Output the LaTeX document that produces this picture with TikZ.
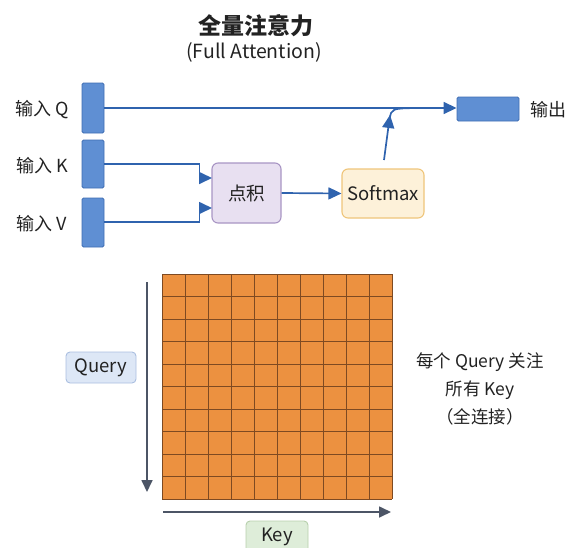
\documentclass[tikz,border=0pt]{standalone}
\usepackage{fontspec}
\setmainfont{Noto Sans CJK SC}
\usetikzlibrary{arrows.meta,positioning}
\definecolor{barfill}{HTML}{5F8FD3}
\definecolor{barline}{HTML}{3F6DB3}
\definecolor{flowc}{HTML}{2F63AE}
\definecolor{dotfill}{HTML}{E8E0F1}
\definecolor{dotline}{HTML}{A895C4}
\definecolor{smfill}{HTML}{FDF1D9}
\definecolor{smline}{HTML}{EFC57A}
\definecolor{cellfill}{HTML}{EC9140}
\definecolor{cellline}{HTML}{7E4A22}
\definecolor{axisc}{HTML}{4C5566}
\definecolor{qfill}{HTML}{DDE7F6}
\definecolor{qline}{HTML}{AABFE0}
\definecolor{kfill}{HTML}{DEEDD9}
\definecolor{kline}{HTML}{B7D0AC}
\definecolor{txt}{HTML}{222222}
\tikzset{
  bar/.style={draw=barline, fill=barfill, line width=0.9pt, rounded corners=1.5pt, minimum width=22pt, inner sep=0pt},
  lbl/.style={text=txt, font=\fontsize{18}{20}\selectfont, inner sep=0pt},
  flow/.style={draw=flowc, line width=1.7pt, -{Triangle[length=13pt,width=12pt]}},
  flowplain/.style={draw=flowc, line width=1.7pt},
  opbox/.style={rounded corners=6pt, line width=1.1pt, inner sep=0pt, text=txt, font=\fontsize{18.5}{20}\selectfont},
  axis/.style={draw=axisc, line width=1.7pt, -{Triangle[length=12pt,width=11pt]}},
  tag/.style={rounded corners=4pt, line width=0.9pt, inner sep=0pt, text=txt, font=\fontsize{18.5}{20}\selectfont}
}
\begin{document}
\begin{tikzpicture}[x=1pt,y=-1pt]
\useasboundingbox (0,0) rectangle (568,547);

% title
\node[text=txt, font=\fontsize{23}{26}\selectfont\bfseries] (title) at (256,26) {全量注意力};
\node[text=txt, font=\fontsize{19.5}{22}\selectfont] (subtitle) at (254,52) {(Full Attention)};

% input bars
\node[bar, minimum height=50pt] (qbar) at (93,108) {};
\node[bar, minimum height=48pt] (kbar) at (93,164) {};
\node[bar, minimum height=49pt] (vbar) at (93,222.5) {};
\node[lbl] (qlbl) at (42,110) {输入 Q};
\node[lbl] (klbl) at (42,166) {输入 K};
\node[lbl] (vlbl) at (42,224) {输入 V};

% output bar
\node[bar, minimum width=62pt, minimum height=24pt] (obar) at (488,109) {};
\node[lbl] (olbl) at (548,110) {输出};

% operators
\node[opbox, draw=dotline, fill=dotfill, minimum width=69pt, minimum height=60pt] (dot) at (246.5,193) {点积};
\node[opbox, draw=smline, fill=smfill, minimum width=82pt, minimum height=49pt] (sm) at (383,193.5) {Softmax};

% connectors
\coordinate (kin) at (212,178);
\coordinate (vin) at (212,208);
\draw[flow] (qbar.east |- 0,108) -- (obar.west |- 0,108);
\draw[flow] (kbar.east) -- ++(95,0) |- (kin);
\draw[flow] (vbar.east |- 0,222) -- ++(95,0) |- (vin);
\draw[flow] (dot.east) -- (sm.west);
\coordinate (smtop) at (384,160);
\coordinate (uptip) at (390,115);
\coordinate (merge) at (416,108);
\draw[flow] (smtop) -- (uptip);
\draw[flowplain] (389.6,119) .. controls (391.5,108.5) .. (merge);

% attention matrix
\fill[cellfill] (162,274) rectangle (392,499);
\foreach \i in {0,...,10} {
  \draw[cellline, line width=0.8pt] (162+23*\i,274) -- (162+23*\i,499);
  \draw[cellline, line width=0.8pt] (162,274+22.5*\i) -- (392,274+22.5*\i);
}
\coordinate (vtop) at (147,282);
\coordinate (vbot) at (147,492);
\coordinate (hleft) at (163,512);
\coordinate (hright) at (391,512);
\draw[axis] (vtop) -- (vbot);
\draw[axis] (hleft) -- (hright);

\node[tag, draw=qline, fill=qfill, minimum width=70pt, minimum height=31pt] (query) at (101,367.5) {Query};
\node[tag, draw=kline, fill=kfill, minimum width=62pt, minimum height=32pt] (key) at (277,537) {Key};

\node[text=txt, font=\fontsize{17.5}{28}\selectfont, align=center] (note) at (480,389) {每个 Query 关注\\所有 Key\\（全连接）};
\end{tikzpicture}
\end{document}
